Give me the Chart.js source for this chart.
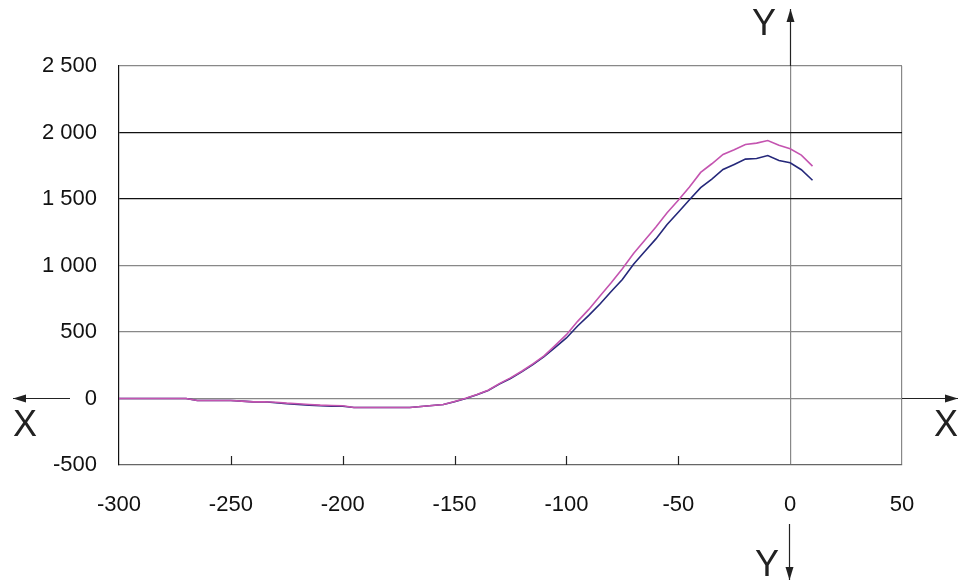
<!DOCTYPE html>
<html>
<head>
<meta charset="utf-8">
<script src="https://cdn.jsdelivr.net/npm/chart.js@4/dist/chart.umd.min.js"></script>
<style>
  html, body { margin: 0; padding: 0; background: #fff; }
  #wrap { width: 960px; height: 583px; }
</style>
</head>
<body>
<div id="wrap"><canvas id="chart"></canvas></div>
<script>
// x positions (every 5 units)
const xValues = [
  -300, -295, -290, -285, -280, -275, -270, -265, -260, -255,
  -250, -245, -240, -235, -230, -225, -220, -215, -210, -205,
  -200, -195, -190, -185, -180, -175, -170, -165, -160, -155,
  -150, -145, -140, -135, -130, -125, -120, -115, -110, -105,
  -100, -95, -90, -85, -80, -75, -70, -65, -60, -55,
  -50, -45, -40, -35, -30, -25, -20, -15, -10, -5,
  0, 5, 10,
]
const pinkValues = [
  0, 0, 0, 0, 0, 0, 0, -15, -15, -15,
  -15, -20, -25, -25, -28, -35, -40, -45, -50, -53,
  -55, -68, -68, -68, -68, -68, -68, -60, -53, -45,
  -22, 2, 30, 62, 112, 155, 205, 260, 320, 400,
  480, 580, 670, 770, 870, 975, 1090, 1190, 1290, 1396,
  1490, 1590, 1700, 1765, 1835, 1870, 1910, 1920, 1940, 1905,
  1877, 1830, 1747,
]
const blueValues = [
  0, 0, 0, 0, 0, 0, 0, -15, -15, -15,
  -15, -20, -25, -25, -32, -40, -45, -50, -55, -57,
  -58, -68, -68, -68, -68, -68, -68, -60, -53, -45,
  -24, 0, 28, 60, 108, 150, 200, 255, 315, 385,
  455, 545, 625, 710, 805, 895, 1010, 1105, 1200, 1308,
  1400, 1495, 1585, 1650, 1722, 1760, 1800, 1805, 1827, 1790,
  1772, 1720, 1641,
]
const xTicks = [-300, -250, -200, -150, -100, -50, 0, 50]
const yTicks = [-500, 0, 500, 1000, 1500, 2000, 2500]

const FONT = 'Liberation Sans, Arial, sans-serif'

function arrow(ctx, x1, y1, x2, y2) {
  const ang = Math.atan2(y2 - y1, x2 - x1)
  ctx.beginPath()
  ctx.moveTo(x1, y1)
  ctx.lineTo(x2, y2)
  ctx.stroke()
  ctx.beginPath()
  ctx.moveTo(x2, y2)
  ctx.lineTo(x2 - 13 * Math.cos(ang) + 4 * Math.sin(ang), y2 - 13 * Math.sin(ang) - 4 * Math.cos(ang))
  ctx.lineTo(x2 - 13 * Math.cos(ang) - 4 * Math.sin(ang), y2 - 13 * Math.sin(ang) + 4 * Math.cos(ang))
  ctx.closePath()
  ctx.fill()
}

// axis arrows, X/Y labels and inner tick marks
const axesPlugin = {
  id: 'axesPlugin',
  afterDraw(chart) {
    const ctx = chart.ctx
    const xs = chart.scales.x
    const ys = chart.scales.y
    const area = chart.chartArea
    const x0 = Math.round(xs.getPixelForValue(0)) + 0.5
    const y0 = Math.round(ys.getPixelForValue(0)) - 0.5
    ctx.save()
    ctx.strokeStyle = '#222'
    ctx.fillStyle = '#222'
    ctx.lineWidth = 1.2
    // tick marks pointing inward on bottom axis
    xTicks.forEach((v) => {
      if (v === -300 || v === 0 || v === 50) return
      const px = Math.round(xs.getPixelForValue(v)) + 0.5
      ctx.beginPath()
      ctx.moveTo(px, area.bottom)
      ctx.lineTo(px, area.bottom - 9)
      ctx.stroke()
    })
    arrow(ctx, x0, area.top, x0, 9)
    arrow(ctx, x0 - 1, 524, x0 - 1, 580)
    arrow(ctx, 70, y0, 13, y0)
    arrow(ctx, area.right, y0, 958, y0)
    ctx.font = '36px ' + FONT
    ctx.textAlign = 'center'
    ctx.textBaseline = 'middle'
    ctx.fillText('X', 25, 426)
    ctx.fillText('X', 946, 426)
    ctx.fillText('Y', 764, 25)
    ctx.fillText('Y', 767, 566)
    ctx.restore()
  },
}

new Chart(document.getElementById('chart').getContext('2d'), {
  type: 'line',
  data: {
    datasets: [
      {
        label: 'pink',
        data: xValues.map((x, i) => ({ x: x, y: pinkValues[i] })),
        borderColor: '#c454b0',
        borderWidth: 1.6,
        pointRadius: 0,
        tension: 0,
      },
      {
        label: 'blue',
        data: xValues.map((x, i) => ({ x: x, y: blueValues[i] })),
        borderColor: '#25287a',
        borderWidth: 1.6,
        pointRadius: 0,
        tension: 0,
      },
    ],
  },
  options: {
    responsive: true,
    maintainAspectRatio: false,
    animation: false,
    layout: { padding: { left: 0, top: 66, right: 58, bottom: 0 } },
    plugins: {
      legend: { display: false },
      tooltip: { enabled: false },
    },
    scales: {
      x: {
        type: 'linear',
        min: -300,
        max: 50,
        afterBuildTicks: (axis) => { axis.ticks = xTicks.map((v) => ({ value: v })) },
        afterFit: (axis) => { axis.height = 118 },
        border: { display: true, color: '#666', width: 1.2 },
        grid: {
          drawTicks: false,
          color: (c) => (c.tick && (c.tick.value === 0 || c.tick.value === 50) ? '#888' : 'rgba(0,0,0,0)'),
          lineWidth: 1.2,
        },
        ticks: {
          padding: 27,
          color: '#111',
          font: { family: FONT, size: 22 },
          maxRotation: 0,
        },
      },
      y: {
        type: 'linear',
        min: -500,
        max: 2500,
        afterBuildTicks: (axis) => { axis.ticks = yTicks.map((v) => ({ value: v })) },
        afterFit: (axis) => { axis.width = 119 },
        border: { display: true, color: '#111', width: 1.2 },
        grid: {
          drawTicks: false,
          color: (c) => {
            const v = c.tick && c.tick.value
            if (v === 2000 || v === 1500) return '#111'
            if (v === -500) return 'rgba(0,0,0,0)'
            return '#888'
          },
          lineWidth: 1.2,
        },
        ticks: {
          padding: 22,
          color: '#111',
          font: { family: FONT, size: 22 },
          callback: (v) => String(v).replace(/\B(?=(\d{3})+(?!\d))/g, ' '),
        },
      },
    },
  },
  plugins: [axesPlugin],
})
</script>
</body>
</html>
